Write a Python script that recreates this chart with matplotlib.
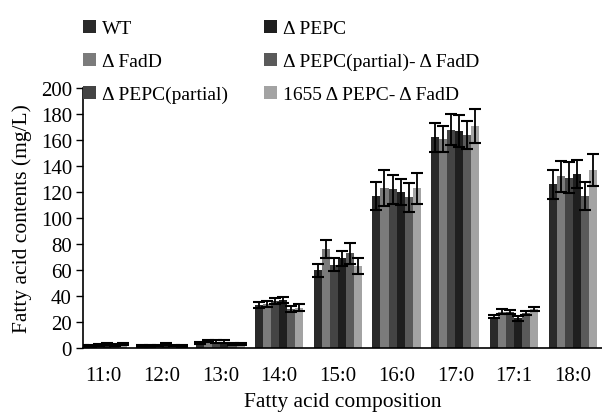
import matplotlib
matplotlib.use("Agg")
import matplotlib.pyplot as plt
import numpy as np

plt.rcParams['font.family'] = ['Liberation Serif', 'DejaVu Serif']

categories = ["11:0", "12:0", "13:0", "14:0", "15:0", "16:0", "17:0", "17:1", "18:0"]
series_names = ["WT", "Δ FadD", "Δ PEPC(partial)", "Δ PEPC",
                "Δ PEPC(partial)- Δ FadD", "1655 Δ PEPC- Δ FadD"]
colors = ["#2a2a2a", "#7b7b7b", "#444444", "#1f1f1f", "#5a5a5a", "#a3a3a3"]

wt        = [1.5, 1.5, 4.0, 33, 60, 117, 162, 24, 126]
fadd      = [1.5, 1.5, 5.5, 34, 76, 123, 161, 28, 132]
pepc_part = [2.5, 2.0, 5.0, 36, 64, 122, 168, 28, 131]
pepc      = [3.0, 3.0, 5.0, 37, 69, 120, 167, 23, 134]
part_fadd = [2.5, 2.0, 3.0, 30, 73, 116, 164, 27, 117]
d1655     = [3.0, 1.5, 3.0, 31, 63, 123, 171, 30, 137]

wt_err        = [0.5, 0.5, 1.0, 2.5, 5, 11, 11, 1.3, 11]
fadd_err      = [0.5, 0.5, 1.0, 2.5, 7, 14, 10, 2.0, 12]
pepc_part_err = [0.8, 0.6, 1.0, 2.5, 5, 11, 12, 1.5, 12]
pepc_err      = [0.8, 0.8, 1.0, 2.5, 6, 10, 12, 2.0, 11]
part_fadd_err = [0.8, 0.6, 0.8, 2.5, 8, 11, 11, 1.5, 11]
d1655_err     = [0.8, 0.5, 0.8, 2.5, 6, 12, 13, 1.5, 12]

values = [wt, fadd, pepc_part, pepc, part_fadd, d1655]
errors = [wt_err, fadd_err, pepc_part_err, pepc_err, part_fadd_err, d1655_err]

fig = plt.figure(figsize=(6.02, 4.14), dpi=100)
ax = fig.add_axes([0.138, 0.157, 0.862, 0.628])

x = np.arange(len(categories))
n = len(values)
bw = 0.137
handles = []
for i, (v, e, c, name) in enumerate(zip(values, errors, colors, series_names)):
    pos = x + (i - (n - 1) / 2) * bw
    b = ax.bar(pos, v, width=bw, color=c, label=name, zorder=2)
    ax.errorbar(pos, v, yerr=e, fmt='none', ecolor='black', elinewidth=1.3,
                capsize=4, capthick=1.5, zorder=3)
    handles.append(b)

ax.set_xlim(-0.34, 8.5)
ax.set_ylim(0, 200)
ax.set_yticks(range(0, 201, 20))
ax.set_xticks(x)
ax.set_xticklabels(categories)
ax.tick_params(axis='x', length=0, pad=13, labelsize=15)
ax.tick_params(axis='y', direction='out', length=5, width=1, pad=3, labelsize=15)
ax.spines['top'].set_visible(False)
ax.spines['right'].set_visible(False)
ax.spines['left'].set_linewidth(1.2)
ax.spines['bottom'].set_linewidth(1.2)
ax.set_ylabel("Fatty acid contents (mg/L)", fontsize=15.5, labelpad=6)
ax.set_xlabel("Fatty acid composition", fontsize=15.5, labelpad=5)

fig.legend(handles=handles, labels=series_names, ncol=2, frameon=False,
           loc='upper left', bbox_to_anchor=(0.125, 0.968), fontsize=14,
           handlelength=0.65, handleheight=0.65, handletextpad=0.3,
           labelspacing=0.8, columnspacing=1.9, borderaxespad=0)

fig.savefig("out.png", dpi=100)
